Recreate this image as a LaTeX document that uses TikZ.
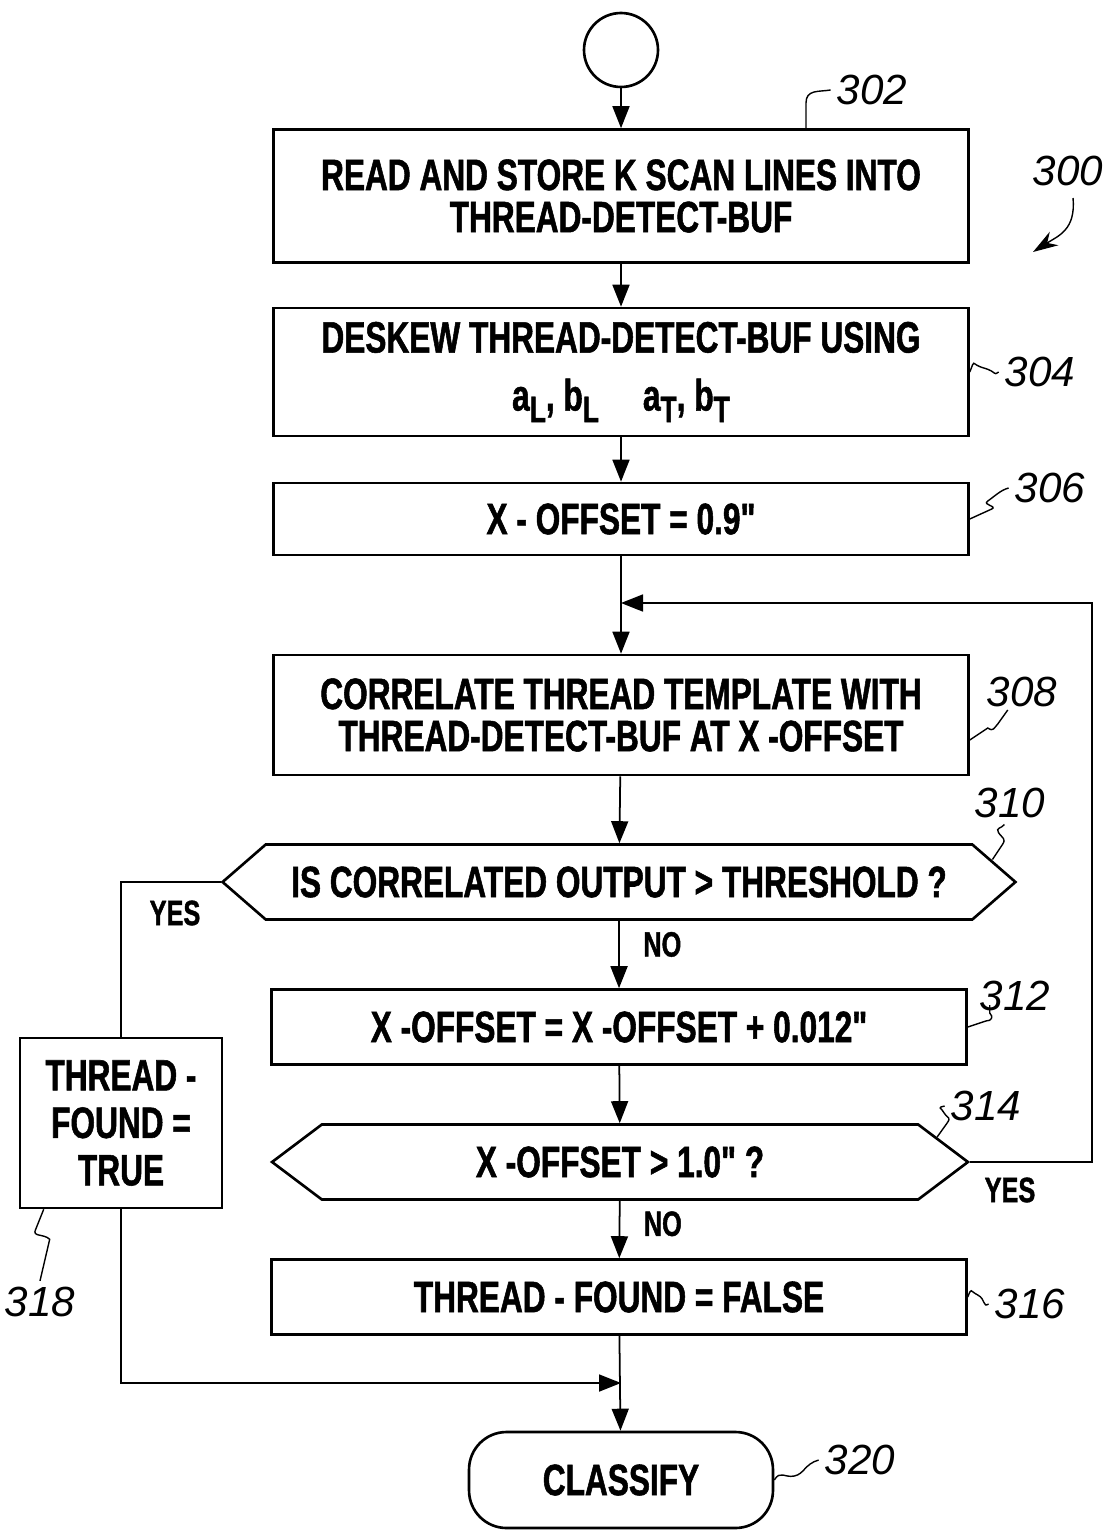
\documentclass[tikz,border=0pt]{standalone}
\usepackage{fontspec}
\setmainfont{Liberation Sans}
\newfontfamily\flowfont[FakeStretch=0.72,BoldFeatures={FakeBold=1.2}]{Liberation Sans}
\newfontfamily\reffont{Liberation Sans}
\usetikzlibrary{arrows.meta,shapes.symbols}

% subscript used in the deskew box
\newcommand{\lowsub}[1]{\raisebox{-0.5ex}{\fontsize{21}{21}\selectfont #1}}

\begin{document}
\begin{tikzpicture}[x=0.02cm,y=-0.02cm,
  every node/.style={font=\flowfont\bfseries\fontsize{25}{24}\selectfont},
  box/.style={draw,line width=1.5pt,minimum width=13.9cm,align=center,inner sep=0pt},
  test/.style={draw,line width=1.5pt,shape=signal,signal to=west and east,inner sep=0pt,minimum height=1.5cm},
  term/.style={draw,line width=1.5pt,rounded corners=0.75cm,minimum width=6.08cm,minimum height=1.92cm},
  flow/.style={line width=1pt,-{Triangle[length=0.44cm,width=0.34cm]}},
  line/.style={line width=1pt},
  lead/.style={line width=0.8pt},
  refnum/.style={font=\reffont\itshape\fontsize{24}{24}\selectfont},
  tag/.style={font=\flowfont\bfseries\fontsize{20}{20}\selectfont}
]
\useasboundingbox (0,0) rectangle (1108,1531);

% flow chart
\node[draw,circle,line width=1.5pt,minimum size=1.48cm] (start) at (621,50) {};
\node[box,minimum height=2.66cm] (read) at (621,196) {READ AND STORE K SCAN LINES INTO\\THREAD-DETECT-BUF};
\node[box,minimum height=2.56cm] (deskew) at (621,372) {DESKEW THREAD-DETECT-BUF USING\\[9pt]
  a\lowsub{L}, b\lowsub{L}\quad a\lowsub{T}, b\lowsub{T}};
\node[box,minimum height=1.44cm] (xoff) at (621,519) {X - OFFSET = 0.9"};
\node[box,minimum height=2.4cm] (corr) at (621,715) {CORRELATE THREAD TEMPLATE WITH\\THREAD-DETECT-BUF AT X -OFFSET};
\node[test,minimum width=15.86cm,signal pointer angle=82] (thresh) at (619,882) {IS CORRELATED OUTPUT > THRESHOLD ?};
\node[box,minimum height=1.5cm] (incr) at (619,1027) {X -OFFSET = X -OFFSET + 0.012"};
\node[test,minimum width=13.92cm,signal pointer angle=74] (limit) at (620,1162) {X -OFFSET > 1.0" ?};
\node[box,minimum height=1.5cm] (notfound) at (619,1297) {THREAD - FOUND = FALSE};
\node[box,minimum width=4.04cm,minimum height=3.4cm] (found) at (121,1123) {THREAD -\\[3pt]FOUND =\\[3pt]TRUE};
\node[term] (classify) at (621,1480) {CLASSIFY};

\coordinate (join) at (621,603);
\coordinate (merge) at (621,1383);

\draw[flow] (start) -- (read);
\draw[flow] (read) -- (deskew);
\draw[flow] (deskew) -- (xoff);
\draw[flow] (xoff) -- (corr);
\draw[flow] (corr) -- (thresh);
\draw[flow] (thresh) -- node[tag,right=10pt,pos=0.35] {NO} (incr);
\draw[flow] (incr) -- (limit);
\draw[flow] (limit) -- node[tag,right=10pt,pos=0.4] {NO} (notfound);
\draw[flow] (notfound) -- (classify);
\draw[flow] (limit.east) -- ++(122,0) |- (join);
\draw[line] (thresh.west) -| (found.north);
\draw[flow] (found.south) |- (merge);

\node[tag] (yes1) at (175,913) {YES};
\node[tag] (yes2) at (1010,1190) {YES};

% reference numerals
\node[refnum] (n300) at (1068,171) {300};
\draw[lead,-{Stealth[length=0.5cm,width=0.32cm]}] (1073,198) .. controls (1076,230) and (1058,236) .. (1033,252);

\node[refnum] (n302) at (872,90) {302};
\draw[lead] ([xshift=3.7cm]read.north) -- ++(0,-25) .. controls +(0,-14) and +(-12,2) .. (n302.west);

\node[refnum] (n304) at (1040,372) {304};
\draw[lead] (deskew.east) .. controls +(6,-14) and +(-14,-4) .. ++(14,-4) .. controls +(14,4) and +(-6,4) .. (n304.west);

\node[refnum] (n306) at (1050,488) {306};
\draw[lead] (xoff.east) -- ++(22,-10) .. controls +(6,-3) and +(-6,4) .. ++(-4,-8) .. controls +(6,-4) and +(-8,2) .. (n306.west);

\node[refnum] (n308) at (1022,692) {308};
\draw[lead] ([yshift=-0.5cm]corr.east) -- ++(18,-12) .. controls +(6,4) and +(-4,4) .. ++(10,-4) -- ++(10,-14);

\node[refnum] (n310) at (1010,803) {310};
\draw[lead] ([shift={(-0.5cm,0.45cm)}]thresh.east) -- ++(10,-15) .. controls +(4,-6) and +(4,6) .. ++(-4,-12) .. controls +(-3,-5) and +(-3,4) .. ++(6,-8);

\node[refnum] (n312) at (1015,996) {312};
\draw[lead] (incr.east) -- ++(18,-6) .. controls +(6,0) and +(4,4) .. ++(4,-8) -- ++(0,-8);

\node[refnum] (n314) at (986,1106) {314};
\draw[lead] ([shift={(-0.66cm,0.5cm)}]limit.east) -- ++(10,-14) .. controls +(4,-6) and +(4,6) .. ++(-3,-10) .. controls +(-3,-6) and +(-8,2) .. (n314.west);

\node[refnum] (n316) at (1030,1304) {316};
\draw[lead] (notfound.east) .. controls +(4,-10) and +(-8,-4) .. ++(10,-2) .. controls +(8,4) and +(-6,4) .. (n316.west);

\node[refnum] (n318) at (40,1302) {318};
\draw[lead] ([xshift=0.5cm]found.south west) -- ++(-8,20) .. controls +(-4,8) and +(-6,-6) .. ++(14,10) -- (n318.north);

\node[refnum] (n320) at (860,1460) {320};
\draw[lead] (classify.east) .. controls +(6,-10) and +(-10,2) .. ++(20,-4) .. controls +(10,-2) and +(-14,4) .. (n320.west);
\end{tikzpicture}
\end{document}
